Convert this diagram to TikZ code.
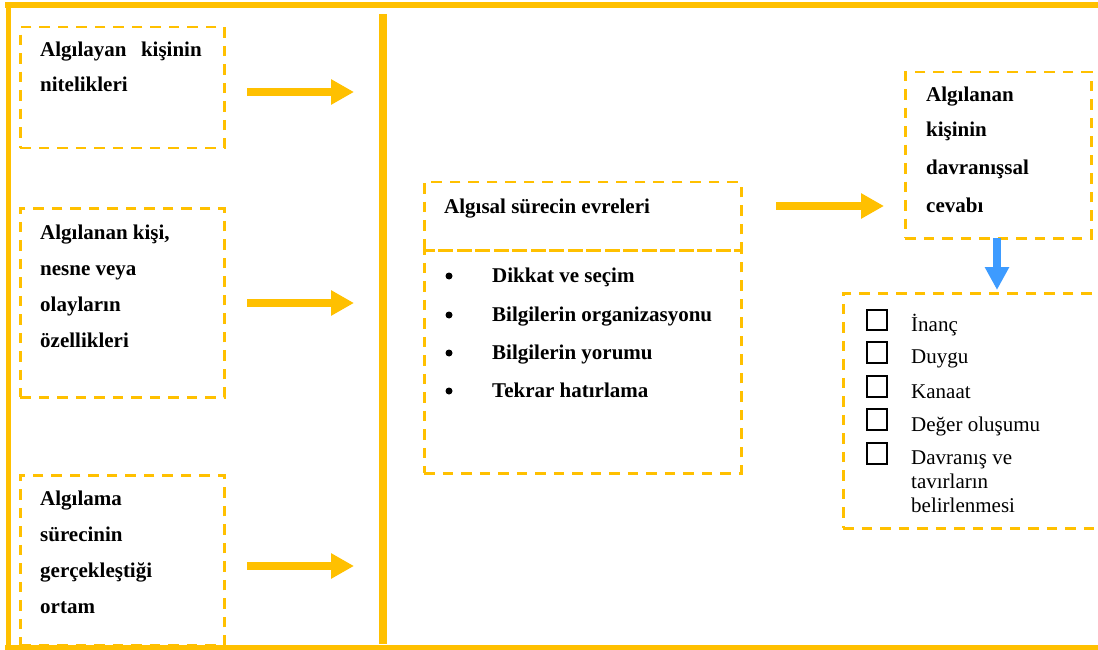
\documentclass[tikz,border=0pt]{standalone}
\usepackage{fontspec}
\setmainfont{Liberation Serif}
\usetikzlibrary{arrows.meta}
\definecolor{gold}{HTML}{FFC000}
\definecolor{skyblue}{HTML}{3D9BFF}
\begin{document}
\begin{tikzpicture}[x=1pt,y=-1pt,
  rule/.style={gold, line width=6pt},
  dbox/.style={draw=gold, line width=2.5pt, dash pattern=on 10.5pt off 8pt,
    anchor=north west, inner sep=0pt},
  lbl/.style={anchor=base west, inner sep=0pt, font=\fontsize{21}{25}\selectfont\bfseries},
  item/.style={anchor=base west, inner sep=0pt, font=\fontsize{21}{25}\selectfont},
  dot/.style={circle, fill=black, minimum size=7pt, inner sep=0pt},
  flow/.style={gold, line width=8.5pt, -{Triangle[length=23pt,width=24pt]}},
  down/.style={skyblue, line width=7.5pt, -{Triangle[length=23pt,width=23pt]}},
  chk/.style={draw=black, line width=2.3pt, minimum size=20.5pt, inner sep=0pt}
]
\clip (0,0) rectangle (1098,650);

% outer frame and separator bar
\draw[rule] (5,5.5) -- (1098,5.5);
\draw[rule, line width=5pt] (8.5,2) -- (8.5,650);
\draw[rule, line width=5pt] (5,647.5) -- (1098,647.5);
\draw[rule, line width=7.5pt] (383,14) -- (383,644);

% input boxes
\node[dbox, minimum width=204pt, minimum height=121pt] (b1) at (19,26) {};
\node[dbox, minimum width=204pt, minimum height=189pt] (b2) at (19,207) {};
\node[dbox, minimum width=204pt, minimum height=170pt] (b3) at (19,474) {};

\node[lbl] (t1a) at (40,57) {Algılayan\hspace{14.5pt}kişinin};
\node[lbl] (t1b) at (40,92) {nitelikleri};

\node[lbl] (t2a) at (40,239) {Algılanan kişi,};
\node[lbl] (t2b) at (40,275) {nesne veya};
\node[lbl] (t2c) at (40,311) {olayların};
\node[lbl] (t2d) at (40,347) {özellikleri};

\node[lbl] (t3a) at (40,505) {Algılama};
\node[lbl] (t3b) at (40,541) {sürecinin};
\node[lbl] (t3c) at (40,577) {gerçekleştiği};
\node[lbl] (t3d) at (40,613) {ortam};

% arrows into the bar
\coordinate (a1s) at (247,92);  \coordinate (a1e) at (354,92);
\coordinate (a2s) at (247,303); \coordinate (a2e) at (354,303);
\coordinate (a3s) at (247,566); \coordinate (a3e) at (354,566);
\draw[flow] (a1s) -- (a1e);
\draw[flow] (a2s) -- (a2e);
\draw[flow] (a3s) -- (a3e);

% stages of perception
\node[dbox, minimum width=317pt, minimum height=68pt] (m1) at (423,181) {};
\node[dbox, minimum width=317pt, minimum height=223pt] (m2) at (423,249) {};
\node[lbl] (mh) at (444,213) {Algısal sürecin evreleri};

\node[dot] (d1) at (449,276) {};
\node[dot] (d2) at (449,315) {};
\node[dot] (d3) at (449,353) {};
\node[dot] (d4) at (449,391) {};
\node[lbl] (s1) at (492,282) {Dikkat ve seçim};
\node[lbl] (s2) at (492,321) {Bilgilerin organizasyonu};
\node[lbl] (s3) at (492,359) {Bilgilerin yorumu};
\node[lbl] (s4) at (492,397) {Tekrar hatırlama};

\coordinate (a4s) at (776,206); \coordinate (a4e) at (884,206);
\draw[flow] (a4s) -- (a4e);

% behavioural response
\node[dbox, minimum width=186pt, minimum height=166pt] (r1) at (904,71) {};
\node[lbl] (r1a) at (926,102) {Algılanan};
\node[lbl] (r1b) at (926,137) {kişinin};
\node[lbl] (r1c) at (926,175) {davranışsal};
\node[lbl] (r1d) at (926,212) {cevabı};

\coordinate (a5s) at (997,238); \coordinate (a5e) at (997,290);
\draw[down] (a5s) -- (a5e);

% outcomes checklist
\node[dbox, minimum width=275pt, minimum height=235pt] (r2) at (842,292) {};
\node[chk] (c1) at (877,320) {};
\node[chk] (c2) at (877,352.5) {};
\node[chk] (c3) at (877,386.5) {};
\node[chk] (c4) at (877,419.5) {};
\node[chk] (c5) at (877,453.5) {};
\node[item] (k1) at (911,331) {İnanç};
\node[item] (k2) at (911,363) {Duygu};
\node[item] (k3) at (911,398) {Kanaat};
\node[item] (k4) at (911,431) {Değer oluşumu};
\node[item] (k5) at (911,464) {Davranış ve};
\node[item] (k6) at (911,488) {tavırların};
\node[item] (k7) at (911,512) {belirlenmesi};
\end{tikzpicture}
\end{document}
